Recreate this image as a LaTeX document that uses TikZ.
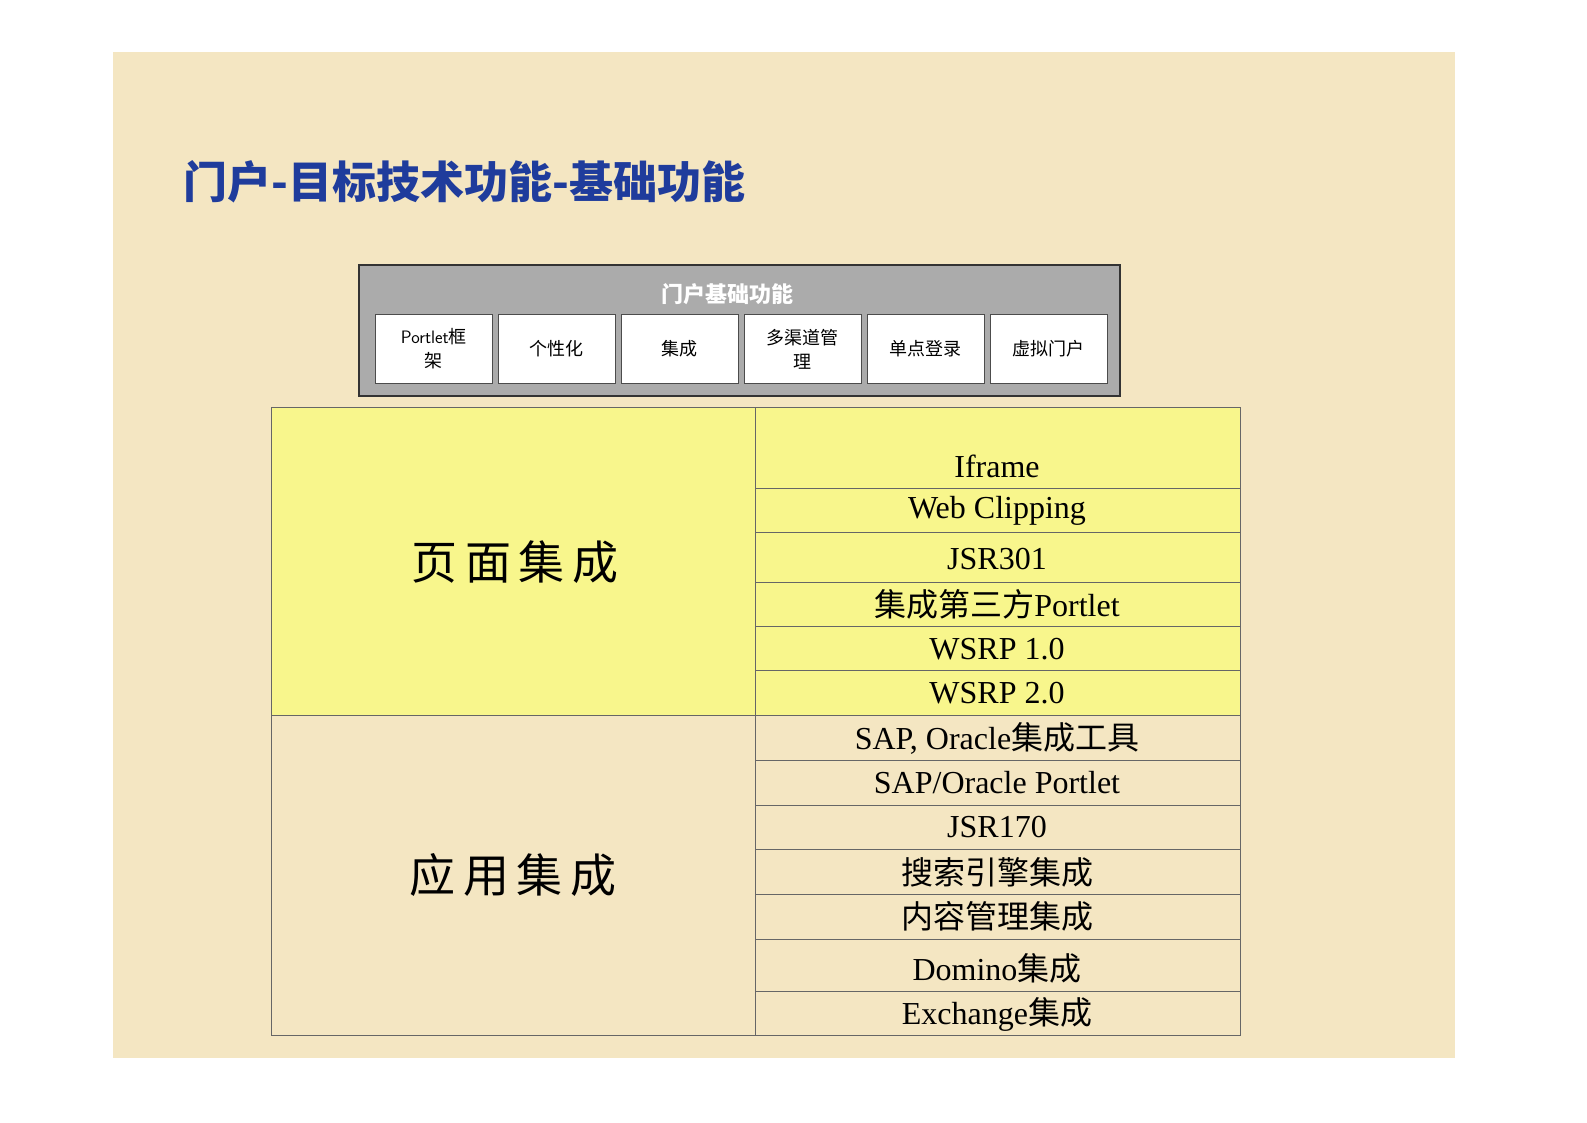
\documentclass[tikz,border=0pt]{standalone}
\usepackage{fontspec}
\setmainfont{Liberation Serif}
\newfontfamily\cjk{Noto Sans CJK SC}
\newcommand{\zh}[1]{{\cjk #1}}
\definecolor{parch}{HTML}{F4E6C2}
\definecolor{ttl}{HTML}{1F3C9C}
\definecolor{yel}{HTML}{F8F68C}
\definecolor{gbox}{HTML}{ABABAB}
\tikzset{cell/.style={draw=black!70,fill=white,line width=0.8pt},
rowtxt/.style={font=\fontsize{32}{34}\selectfont,text=black},
bigtxt/.style={font=\cjk\fontsize{46}{48}\selectfont}}
\begin{document}
\begin{tikzpicture}[x=1pt,y=-1pt]
\useasboundingbox (0,0) rectangle (1587,1122);
\fill[white] (0,0) rectangle (1587,1122);
\fill[parch] (113,52) rectangle (1455,1058);
\node[anchor=west,text=ttl,font=\cjk\bfseries\fontsize{44}{46}\selectfont] (title) at (180,182) {门户-目标技术功能-基础功能};
% gray box
\node[draw=black!80,fill=gbox,line width=1.5pt,minimum width=761,minimum height=131,inner sep=0,anchor=north west] (gb) at (358,264) {};
\node[text=white,font=\cjk\bfseries\fontsize{22}{24}\selectfont] (gh) at (727,294) {门户基础功能};
\foreach \x/\t [count=\i] in {375/{Portlet\zh{框}\\\zh{架}},498/{\zh{个性化}},621/{\zh{集成}},744/{\zh{多渠道管}\\\zh{理}},867/{\zh{单点登录}},990/{\zh{虚拟门户}}}{
 \node[cell,anchor=north west,minimum width=117,minimum height=69,inner sep=0,align=center,font=\sffamily\fontsize{18}{24}\selectfont] (c\i) at (\x,314) {\t};
}
% table
\fill[yel] (271,407) rectangle (1240,715);
\draw[black!60,line width=1pt] (271,407) rectangle (1240,1035);
\draw[black!60,line width=1pt] (755,407) -- (755,1035);
\draw[black!60,line width=1pt] (271,715) -- (755,715);
\foreach \y in {488,532,582,626,670,715,760,805,849,894,939,991}{
 \draw[black!60,line width=1pt] (755,\y) -- (1240,\y);
}
\node[bigtxt] (pg) at (515,562) {页\,面\,集\,成};
\node[bigtxt] (ap) at (513,875) {应\,用\,集\,成};
\foreach \y/\t [count=\i] in {466/Iframe,511/Web Clipping,559/JSR301,604/{\zh{集成第三方}Portlet},649/WSRP 1.0,693/WSRP 2.0,738/{SAP, Oracle\zh{集成工具}},783/{SAP{/}Oracle Portlet},827/JSR170,872/{\zh{搜索引擎集成}},916/{\zh{内容管理集成}},968/{Domino\zh{集成}},1014/{Exchange\zh{集成}}}{
 \node[rowtxt] (r\i) at (997,\y) {\t};
}
\end{tikzpicture}
\end{document}
